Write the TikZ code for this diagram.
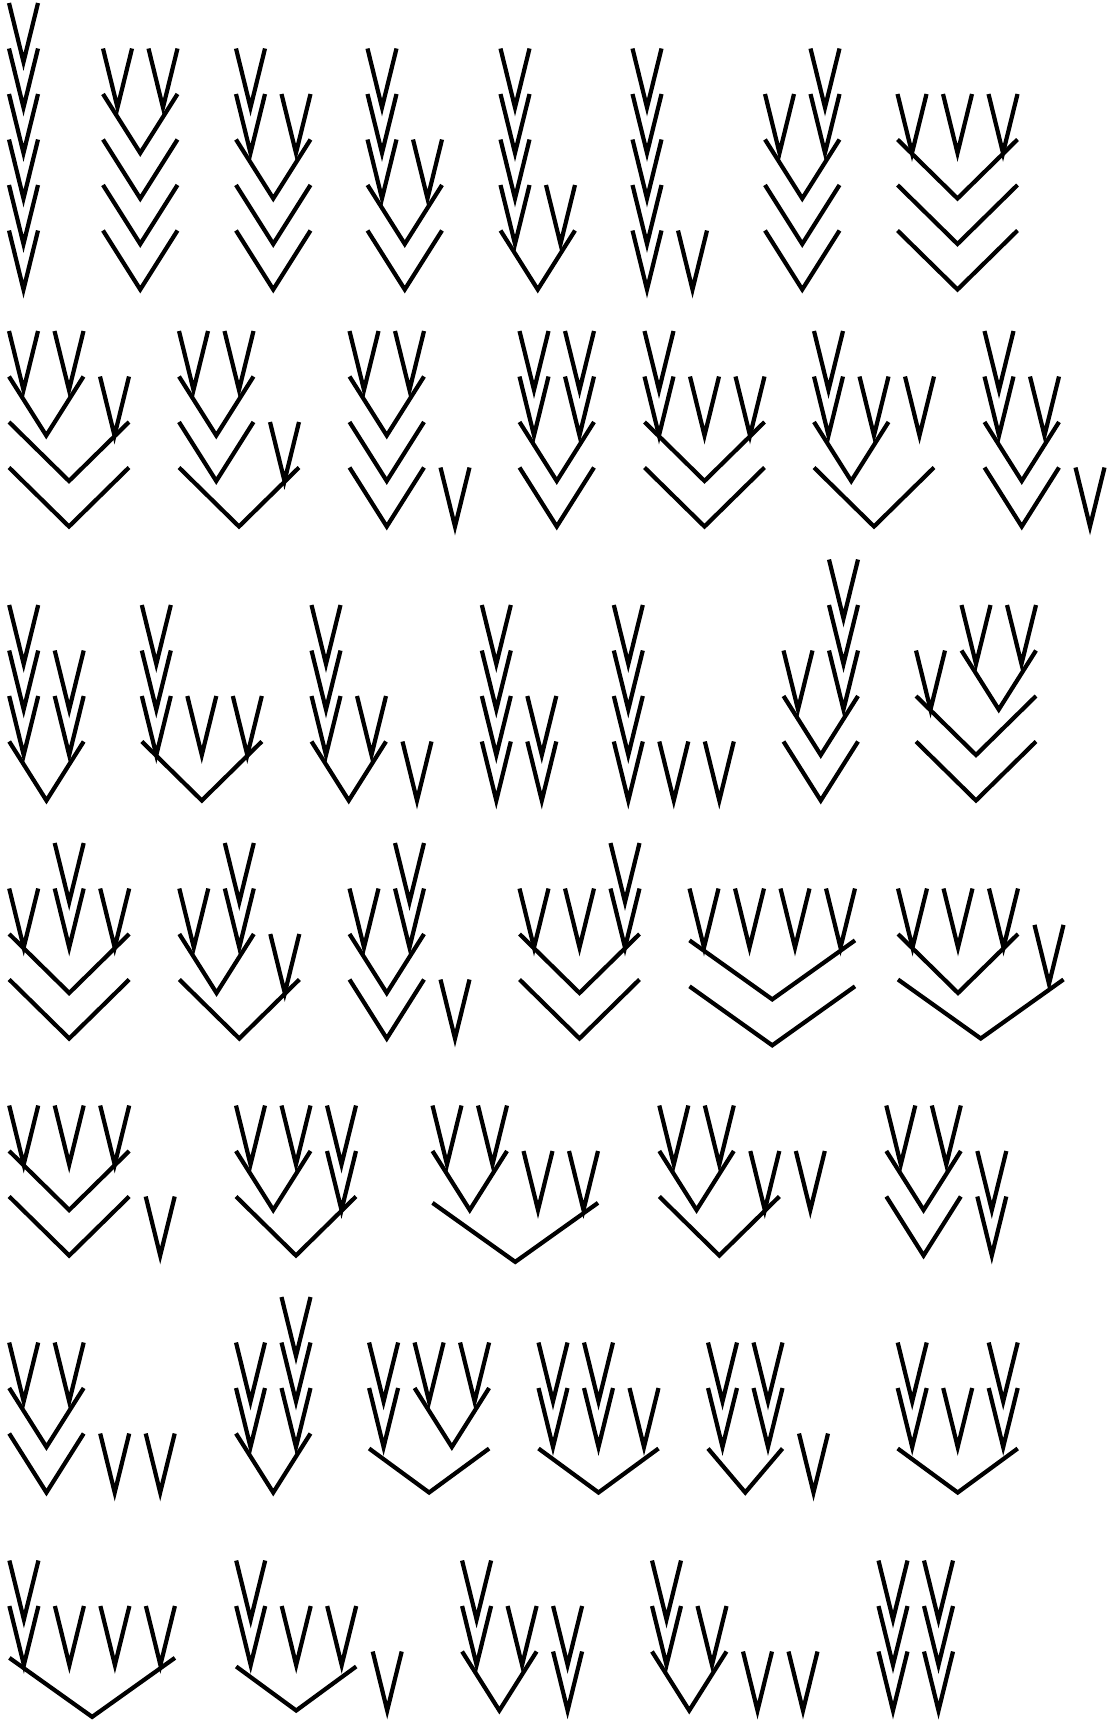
\documentclass[tikz,border=0pt]{standalone}
\usepackage{tikz}

% one V: first slot, last slot, level (optional: drop of the arm ends)
\newcommand{\drawv}[4][0]{%
  \draw ({#2*45.5-14.5},{#4*45.5+#1}) -- ({(#2+#3)*22.75},{#4*45.5+59}) -- ({#3*45.5+14.5},{#4*45.5+#1});}

\begin{document}
\begin{tikzpicture}[x=1pt,y=-1pt,line width=4.2pt]
    \useasboundingbox (0,0) rectangle (1111,1721);
    % Row 1
    \begin{scope}[shift={(23.5,3)}]
        \foreach \l in {0,...,5} {\drawv{0}{0}{\l}}
    \end{scope}
    \begin{scope}[shift={(117.5,3)}]
        \drawv{0}{0}{1} \drawv{1}{1}{1}
        \foreach \l in {2,...,5} {\drawv{0}{1}{\l}}
    \end{scope}
    \begin{scope}[shift={(250.5,3)}]
        \drawv{0}{0}{1} \drawv{0}{0}{2} \drawv{1}{1}{2}
        \foreach \l in {3,4,5} {\drawv{0}{1}{\l}}
    \end{scope}
    \begin{scope}[shift={(382,3)}]
        \foreach \l in {1,2,3} {\drawv{0}{0}{\l}}
        \drawv{1}{1}{3} \drawv{0}{1}{4} \drawv{0}{1}{5}
    \end{scope}
    \begin{scope}[shift={(515,3)}]
        \foreach \l in {1,...,4} {\drawv{0}{0}{\l}}
        \drawv{1}{1}{4} \drawv{0}{1}{5}
    \end{scope}
    \begin{scope}[shift={(647,3)}]
        \foreach \l in {1,...,5} {\drawv{0}{0}{\l}}
        \drawv{1}{1}{5}
    \end{scope}
    \begin{scope}[shift={(779.5,3)}]
        \drawv{1}{1}{1} \drawv{0}{0}{2} \drawv{1}{1}{2}
        \foreach \l in {3,4,5} {\drawv{0}{1}{\l}}
    \end{scope}
    \begin{scope}[shift={(912,3)}]
        \drawv{0}{0}{2} \drawv{1}{1}{2} \drawv{2}{2}{2}
        \foreach \l in {3,4,5} {\drawv{0}{2}{\l}}
    \end{scope}
    % Row 2
    \begin{scope}[shift={(23.5,331)}]
        \drawv{0}{0}{0} \drawv{1}{1}{0} \drawv{0}{1}{1} \drawv{2}{2}{1} \drawv{0}{2}{2} \drawv{0}{2}{3}
    \end{scope}
    \begin{scope}[shift={(193.5,331)}]
        \drawv{0}{0}{0} \drawv{1}{1}{0} \drawv{0}{1}{1} \drawv{0}{1}{2} \drawv{2}{2}{2} \drawv{0}{2}{3}
    \end{scope}
    \begin{scope}[shift={(364,331)}]
        \drawv{0}{0}{0} \drawv{1}{1}{0} \drawv{0}{1}{1} \drawv{0}{1}{2} \drawv{0}{1}{3} \drawv{2}{2}{3}
    \end{scope}
    \begin{scope}[shift={(534,331)}]
        \drawv{0}{0}{0} \drawv{0}{0}{1} \drawv{1}{1}{0} \drawv{1}{1}{1} \drawv{0}{1}{2} \drawv{0}{1}{3}
    \end{scope}
    \begin{scope}[shift={(659,331)}]
        \drawv{0}{0}{0} \drawv{0}{0}{1} \drawv{1}{1}{1} \drawv{2}{2}{1} \drawv{0}{2}{2} \drawv{0}{2}{3}
    \end{scope}
    \begin{scope}[shift={(828.5,331)}]
        \drawv{0}{0}{0} \drawv{0}{0}{1} \drawv{1}{1}{1} \drawv{2}{2}{1} \drawv{0}{1}{2} \drawv{0}{2}{3}
    \end{scope}
    \begin{scope}[shift={(999,331)}]
        \drawv{0}{0}{0} \drawv{0}{0}{1} \drawv{1}{1}{1} \drawv{0}{1}{2} \drawv{0}{1}{3} \drawv{2}{2}{3}
    \end{scope}
    % Row 3
    \begin{scope}[shift={(23.7,559.5)}]
        \foreach \l in {1,2,3} {\drawv{0}{0}{\l}}
        \drawv{1}{1}{2} \drawv{1}{1}{3} \drawv{0}{1}{4}
    \end{scope}
    \begin{scope}[shift={(156.3,559.5)}]
        \foreach \l in {1,2,3} {\drawv{0}{0}{\l}}
        \drawv{1}{1}{3} \drawv{2}{2}{3} \drawv{0}{2}{4}
    \end{scope}
    \begin{scope}[shift={(326,559.5)}]
        \foreach \l in {1,2,3} {\drawv{0}{0}{\l}}
        \drawv{1}{1}{3} \drawv{0}{1}{4} \drawv{2}{2}{4}
    \end{scope}
    \begin{scope}[shift={(496.3,559.5)}]
        \foreach \l in {1,...,4} {\drawv{0}{0}{\l}}
        \drawv{1}{1}{3} \drawv{1}{1}{4}
    \end{scope}
    \begin{scope}[shift={(628.3,559.5)}]
        \foreach \l in {1,...,4} {\drawv{0}{0}{\l}}
        \drawv{1}{1}{4} \drawv{2}{2}{4}
    \end{scope}
    \begin{scope}[shift={(798,559.5)}]
        \foreach \l in {0,1,2} {\drawv{1}{1}{\l}}
        \drawv{0}{0}{2} \drawv{0}{1}{3} \drawv{0}{1}{4}
    \end{scope}
    \begin{scope}[shift={(930.5,559.5)}]
        \drawv{1}{1}{1} \drawv{2}{2}{1} \drawv{1}{2}{2} \drawv{0}{0}{2} \drawv{0}{2}{3} \drawv{0}{2}{4}
    \end{scope}
    % Row 4
    \begin{scope}[shift={(23.7,843)}]
        \drawv{1}{1}{0} \drawv{0}{0}{1} \drawv{1}{1}{1} \drawv{2}{2}{1} \drawv{0}{2}{2} \drawv{0}{2}{3}
    \end{scope}
    \begin{scope}[shift={(193.8,843)}]
        \drawv{1}{1}{0} \drawv{0}{0}{1} \drawv{1}{1}{1} \drawv{0}{1}{2} \drawv{2}{2}{2} \drawv{0}{2}{3}
    \end{scope}
    \begin{scope}[shift={(364,843)}]
        \drawv{1}{1}{0} \drawv{0}{0}{1} \drawv{1}{1}{1} \drawv{0}{1}{2} \drawv{0}{1}{3} \drawv{2}{2}{3}
    \end{scope}
    \begin{scope}[shift={(534,843)}]
        \drawv{2}{2}{0} \drawv{0}{0}{1} \drawv{1}{1}{1} \drawv{2}{2}{1} \drawv{0}{2}{2} \drawv{0}{2}{3}
    \end{scope}
    \begin{scope}[shift={(704,843)}]
        \foreach \s in {0,...,3} {\drawv{\s}{\s}{1}}
        \drawv{0}{3}{2.14} \drawv{0}{3}{3.15}
    \end{scope}
    \begin{scope}[shift={(912.5,843)}]
        \drawv{0}{0}{1} \drawv{1}{1}{1} \drawv{2}{2}{1} \drawv{0}{2}{2} \drawv{3}{3}{1.8} \drawv{0}{3}{3}
    \end{scope}
    % Row 5
    \begin{scope}[shift={(23.7,1105.5)}]
        \drawv{0}{0}{0} \drawv{1}{1}{0} \drawv{2}{2}{0} \drawv{0}{2}{1} \drawv{0}{2}{2} \drawv{3}{3}{2}
    \end{scope}
    \begin{scope}[shift={(250.5,1105.5)}]
        \drawv{0}{0}{0} \drawv{1}{1}{0} \drawv{2}{2}{0} \drawv{2}{2}{1} \drawv{0}{1}{1} \drawv{0}{2}{2}
    \end{scope}
    \begin{scope}[shift={(447,1105.5)}]
        \drawv{0}{0}{0} \drawv{1}{1}{0} \drawv{0}{1}{1} \drawv{2}{2}{1} \drawv{3}{3}{1} \drawv{0}{3}{2.14}
    \end{scope}
    \begin{scope}[shift={(673.8,1105.5)}]
        \drawv{0}{0}{0} \drawv{1}{1}{0} \drawv{0}{1}{1} \drawv{2}{2}{1} \drawv{0}{2}{2} \drawv{3}{3}{1}
    \end{scope}
    \begin{scope}[shift={(900.8,1105.5)}]
        \drawv{0}{0}{0} \drawv{1}{1}{0} \drawv{0}{1}{1} \drawv{0}{1}{2} \drawv{2}{2}{1} \drawv{2}{2}{2}
    \end{scope}
    % Row 6
    \begin{scope}[shift={(23.7,1297)}]
        \drawv{0}{0}{1} \drawv{1}{1}{1} \drawv{0}{1}{2} \drawv{0}{1}{3} \drawv{2}{2}{3} \drawv{3}{3}{3}
    \end{scope}
    \begin{scope}[shift={(250.5,1297)}]
        \drawv{1}{1}{0} \drawv{0}{0}{1} \drawv{1}{1}{1} \drawv{0}{0}{2} \drawv{1}{1}{2} \drawv{0}{1}{3}
    \end{scope}
    \begin{scope}[shift={(383.6,1297)}]
        \drawv{0}{0}{1} \drawv{0}{0}{2} \drawv{1}{1}{1} \drawv{2}{2}{1} \drawv{1}{2}{2} \drawv[15]{0}{2}{3}
    \end{scope}
    \begin{scope}[shift={(553,1297)}]
        \drawv{0}{0}{1} \drawv{0}{0}{2} \drawv{1}{1}{1} \drawv{1}{1}{2} \drawv{2}{2}{2} \drawv[15]{0}{2}{3}
    \end{scope}
    \begin{scope}[shift={(722.5,1297)}]
        \drawv{0}{0}{1} \drawv{0}{0}{2} \drawv{1}{1}{1} \drawv{1}{1}{2} \drawv[15]{0}{1}{3} \drawv{2}{2}{3}
    \end{scope}
    \begin{scope}[shift={(912.2,1297)}]
        \drawv{0}{0}{1} \drawv{0}{0}{2} \drawv{1}{1}{2} \drawv{2}{2}{1} \drawv{2}{2}{2} \drawv[15]{0}{2}{3}
    \end{scope}
    % Row 7
    \begin{scope}[shift={(23.9,1560.5)}]
        \drawv{0}{0}{0} \drawv{0}{0}{1} \drawv{1}{1}{1} \drawv{2}{2}{1} \drawv{3}{3}{1} \drawv{0}{3}{2.14}
    \end{scope}
    \begin{scope}[shift={(250.7,1560.5)}]
        \drawv{0}{0}{0} \drawv{0}{0}{1} \drawv{1}{1}{1} \drawv{2}{2}{1} \drawv[15]{0}{2}{2} \drawv{3}{3}{2}
    \end{scope}
    \begin{scope}[shift={(476.6,1560.5)}]
        \drawv{0}{0}{0} \drawv{0}{0}{1} \drawv{1}{1}{1} \drawv{0}{1}{2} \drawv{2}{2}{1} \drawv{2}{2}{2}
    \end{scope}
    \begin{scope}[shift={(666.5,1560.5)}]
        \drawv{0}{0}{0} \drawv{0}{0}{1} \drawv{1}{1}{1} \drawv{0}{1}{2} \drawv{2}{2}{2} \drawv{3}{3}{2}
    \end{scope}
    \begin{scope}[shift={(893,1560.5)}]
        \foreach \l in {0,1,2} {\drawv{0}{0}{\l} \drawv{1}{1}{\l}}
    \end{scope}
\end{tikzpicture}
\end{document}
